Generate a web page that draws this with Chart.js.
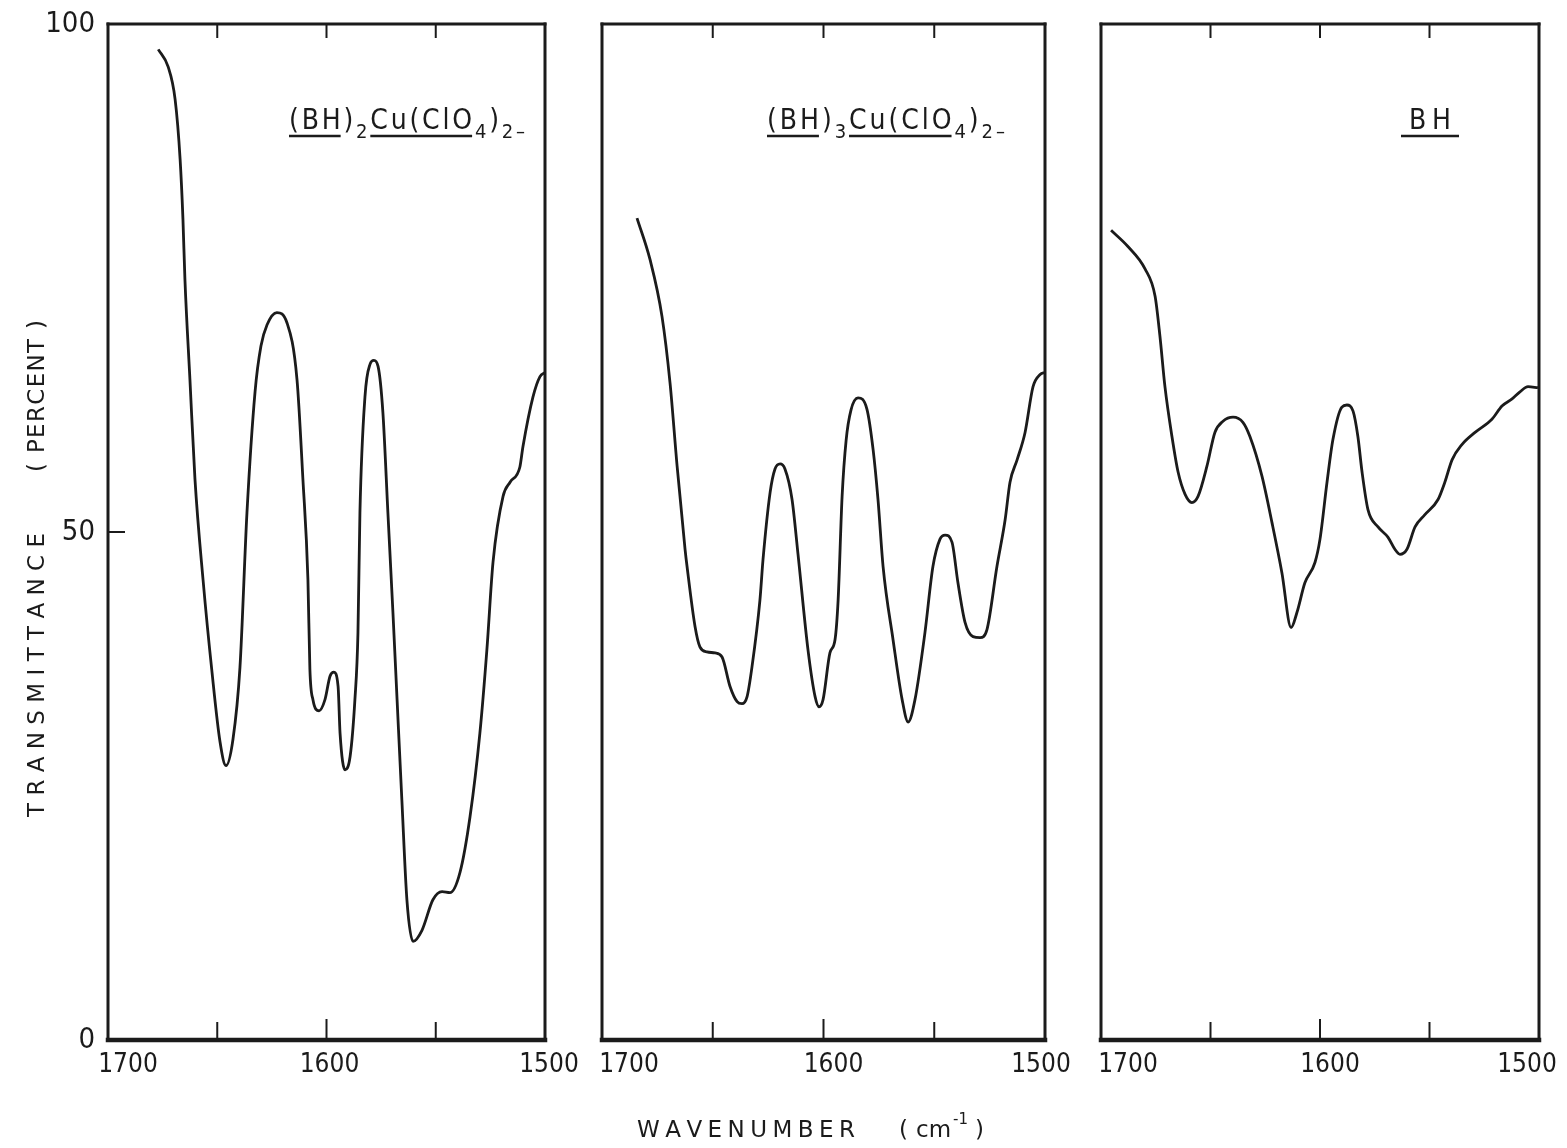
<!DOCTYPE html>
<html>
<head>
<meta charset="utf-8">
<title>IR spectra</title>
<script src="https://cdn.jsdelivr.net/npm/chart.js@4.4.1/dist/chart.umd.min.js"></script>
<style>
  html, body { margin: 0; padding: 0; background: #fff; }
  #wrap { position: relative; width: 1567px; height: 1148px; }
  #wrap canvas { position: absolute; left: 0; top: 0; }
</style>
</head>
<body>
<div id="wrap">
  <canvas id="ir1" width="1567" height="1148"></canvas>
  <canvas id="ir2" width="1567" height="1148"></canvas>
  <canvas id="ir3" width="1567" height="1148"></canvas>
</div>
<script>
// shared axis values
const waveTicks = [1650, 1600, 1550];
const waveLabels = [1700, 1600, 1500];
const percentLabels = [100, 50, 0];

// (BH)2Cu(ClO4)2 spectrum
const wnA = [1677, 1672.5, 1669.3, 1667, 1665.7, 1664.8, 1662.5, 1660.2, 1656.5, 1652.4,
  1648.7, 1646, 1642.8, 1639.6, 1636.4, 1632.7, 1630.0, 1627.2, 1622.7, 1618.1, 1613.5,
  1610.8, 1608.5, 1607.6, 1606.2, 1603.4, 1600.7, 1598.4, 1596.6, 1594.7, 1593.8,
  1591.5, 1589.2, 1587, 1585.6, 1584.7, 1582.4, 1580.1, 1578.3, 1576.4, 1574.2,
  1571.9, 1569.6, 1567.7, 1565.5, 1563.2, 1560.4, 1556.3, 1551.3, 1547.1, 1543.5,
  1538.9, 1534.3, 1529.8, 1526.6, 1523.8, 1519.2, 1516, 1511.5, 1510.1, 1505.5,
  1502.3, 1500];
const tA = [97.5, 95.8, 92.6, 86.7, 80.8, 74.9, 65.0, 55.2, 45.3, 36.2,
  29.3, 27.0, 29.6, 36.7, 51.9, 63.8, 68.3, 70.4, 71.6, 70.6, 65.0,
  55.2, 45.3, 36.5, 33.5, 32.4, 33.5, 35.8, 36.2, 34.8, 30.2,
  26.6, 27.9, 33.5, 40.1, 51.9, 63.3, 66.5, 66.9, 66.3, 61.8,
  51.9, 42.1, 33.5, 23.6, 13.8, 9.7, 10.8, 13.8, 14.6, 14.5,
  16.5, 22.0, 30.2, 38.4, 47.0, 53.5, 54.9, 56.4, 58.4, 63.3,
  65.3, 65.7];

// (BH)3Cu(ClO4)2 spectrum
const wnB = [1684.2, 1678.3, 1672.9, 1669.3, 1666.1, 1662.5, 1661.6, 1658.0, 1655.8, 1652.6,
  1649.0, 1645.8, 1642.2, 1639.0, 1636.8, 1634.5, 1632.3, 1628.7, 1627.3, 1624.1,
  1621.9, 1619.6, 1617.4, 1614.2, 1611.5, 1607.0, 1603.8, 1602.0, 1600.2,
  1597.1, 1594.8, 1593.4, 1591.6, 1589.8, 1587.6, 1584.4, 1580.4, 1577.6, 1575.4, 1573.1,
  1568.6, 1564.5, 1561.8, 1558.7, 1554.2, 1550.6, 1547.4, 1545.1, 1542.0, 1539.3,
  1536.1, 1532.5, 1529.3, 1526.2, 1521.7, 1518.0, 1515.8, 1512.6, 1509.0, 1505.4,
  1502.2, 1500.0];
const tB = [80.9, 76.8, 71.2, 64.7, 56.5, 48.3, 46.6, 40.7, 38.7, 38.2,
  38.1, 37.7, 34.8, 33.3, 33.1, 33.8, 36.7, 43.3, 47.3, 53.9,
  56.2, 56.7, 56.2, 53.2, 47.8, 38.4, 33.8, 32.8, 33.5,
  38.1, 39.4, 43.3, 53.5, 59.0, 62.0, 63.2, 62.1, 58.1, 53.2, 46.6,
  39.4, 33.5, 31.3, 33.5, 40.1, 46.6, 49.3, 49.7, 49.0, 45.0,
  41.1, 39.7, 39.6, 40.4, 46.6, 51.2, 54.9, 57.1, 59.8, 64.3,
  65.5, 65.7];

// free ligand BH
const wnC = [1695.4, 1687.7, 1679.9, 1675.3, 1673.1, 1670.8, 1667.6, 1664.8, 1661.6, 1658.5,
  1655.7, 1651.6, 1648.0, 1644.3, 1639.7, 1635.2, 1632.0, 1626.5, 1621.9,
  1617.4, 1613.2, 1610.5, 1606.9, 1602.3, 1600.0, 1596.8, 1594.1, 1590.0, 1587.7,
  1584.9, 1582.7, 1580.8, 1578.1, 1573.5, 1569.0, 1565.8, 1563.5, 1560.3, 1556.6,
  1552.1, 1546.1, 1543.0, 1539.7, 1535.2, 1529.2, 1521.5, 1516.9, 1512.3, 1508.7,
  1505.0, 1500.5];
const tC = [79.7, 78.1, 75.9, 73.2, 69.3, 64.3, 59.4, 55.9, 53.7, 52.9,
  53.5, 56.5, 59.8, 60.9, 61.3, 60.8, 59.4, 55.5, 50.9,
  46.0, 40.6, 42.1, 45.0, 47.0, 49.3, 54.9, 59.1, 62.3, 62.5,
  61.9, 59.4, 55.9, 52.2, 50.5, 49.5, 48.3, 47.8, 48.3, 50.5,
  51.7, 53.2, 54.9, 57.1, 58.6, 59.8, 61.1, 62.4, 63.1, 63.8,
  64.3, 64.2];

const W = 1567, H = 1148;
const TOP = 24, BOTTOM = 1040;
const INK = '#1b1b1b';
const COND = '"DejaVu Sans Condensed", "DejaVu Sans", sans-serif';
const SANS = '"DejaVu Sans", sans-serif';

function line(ctx, x1, y1, x2, y2) {
  ctx.beginPath();
  ctx.moveTo(x1, y1);
  ctx.lineTo(x2, y2);
  ctx.stroke();
}

// spread the letters of a word evenly over a given width
function spacedText(ctx, text, cx, cy, width) {
  const chars = [...text];
  const widths = chars.map(c => ctx.measureText(c).width);
  const sum = widths.reduce((s, v) => s + v, 0);
  const gap = chars.length > 1 ? (width - sum) / (chars.length - 1) : 0;
  let px = cx - width / 2;
  ctx.textAlign = 'left';
  chars.forEach((c, i) => {
    ctx.fillText(c, px, cy);
    px += widths[i] + gap;
  });
}

// chemical formula with subscripts and underlined groups, letter-spaced to a width
function drawFormula(ctx, segs, x0, base, width) {
  const fontOf = s => (s.sub ? '20px ' : '28px ') + COND;
  const glyphs = [];
  segs.forEach((s, si) => {
    ctx.font = fontOf(s);
    [...s.t].forEach(c => glyphs.push({ c, si, w: ctx.measureText(c).width }));
  });
  const natural = glyphs.reduce((acc, g) => acc + g.w, 0);
  const gap = glyphs.length > 1 ? (width - natural) / (glyphs.length - 1) : 0;

  ctx.textAlign = 'left';
  ctx.textBaseline = 'alphabetic';
  const spans = segs.map(() => ({ a: Infinity, b: -Infinity }));
  let px = x0;
  glyphs.forEach(g => {
    const s = segs[g.si];
    ctx.font = fontOf(s);
    ctx.fillText(g.c, px, base + (s.sub ? 9 : 0));
    spans[g.si].a = Math.min(spans[g.si].a, px);
    spans[g.si].b = Math.max(spans[g.si].b, px + g.w);
    px += g.w + gap;
  });
  ctx.lineWidth = 2.6;
  segs.forEach((s, si) => {
    if (!s.u) return;
    const pad = s.pad || 0;
    line(ctx, spans[si].a - pad, base + 7, spans[si].b + pad, base + 7);
  });
}

const panels = [
  {
    id: 'ir1', wn: wnA, t: tA, left: 108, right: 545,
    labelShift: [20, 3, 4], labelX: 289, labelW: 236,
    formula: [
      { t: '(BH', u: true }, { t: ')' }, { t: '2', sub: true },
      { t: 'Cu(ClO', u: true }, { t: '4', sub: true }, { t: ')' },
      { t: '2', sub: true }, { t: '\u2013', sub: true }
    ],
    yAxis: true
  },
  {
    id: 'ir2', wn: wnB, t: tB, left: 602, right: 1045,
    labelShift: [27, 10, -4], labelX: 767, labelW: 238,
    formula: [
      { t: '(BH', u: true }, { t: ')' }, { t: '3', sub: true },
      { t: 'Cu(ClO', u: true }, { t: '4', sub: true }, { t: ')' },
      { t: '2', sub: true }, { t: '\u2013', sub: true }
    ],
    xTitle: true
  },
  {
    id: 'ir3', wn: wnC, t: tC, left: 1101, right: 1539,
    labelShift: [27, 10, -12], labelX: 1409, labelW: 42,
    formula: [{ t: 'BH', u: true, pad: 8 }]
  }
];

function makePanel(p) {
  const points = p.wn.map((w, i) => ({ x: w, y: p.t[i] }));

  // box frame, inward ticks, tick labels and titles
  const frame = {
    id: 'frame',
    afterDraw(chart) {
      const { ctx, chartArea: a } = chart;
      const xs = chart.scales.x, ys = chart.scales.y;
      ctx.save();
      ctx.strokeStyle = INK;
      ctx.fillStyle = INK;
      ctx.lineCap = 'square';

      ctx.lineWidth = 3;
      line(ctx, a.left, a.top, a.right, a.top);
      line(ctx, a.left, a.top, a.left, a.bottom);
      line(ctx, a.right, a.top, a.right, a.bottom);
      ctx.lineWidth = 4.5;
      line(ctx, a.left, a.bottom, a.right, a.bottom);

      ctx.lineWidth = 2;
      ctx.lineCap = 'butt';
      waveTicks.forEach(w => {
        const px = xs.getPixelForValue(w);
        line(ctx, px, a.top, px, a.top + 14);
        line(ctx, px, a.bottom, px, a.bottom - (w === 1600 ? 21 : 18));
      });

      ctx.font = '26px ' + COND;
      ctx.textAlign = 'center';
      ctx.textBaseline = 'middle';
      waveLabels.forEach((w, i) => {
        ctx.fillText(String(w), xs.getPixelForValue(w) + p.labelShift[i], 1065);
      });

      drawFormula(ctx, p.formula, p.labelX, 129, p.labelW);

      if (p.yAxis) {
        ctx.lineWidth = 2;
        const p50 = ys.getPixelForValue(50);
        line(ctx, a.left, p50, a.left + 17, p50);

        ctx.font = '29px ' + COND;
        ctx.textAlign = 'right';
        ctx.textBaseline = 'middle';
        percentLabels.forEach(v => {
          ctx.fillText(String(v), a.left - 13, ys.getPixelForValue(v));
        });

        ctx.font = '23px ' + SANS;
        ctx.textBaseline = 'middle';
        ctx.save();
        ctx.translate(38, 0);
        ctx.rotate(-Math.PI / 2);
        spacedText(ctx, 'TRANSMITTANCE', -675, 0, 284);
        spacedText(ctx, '( PERCENT )', -396, 0, 152);
        ctx.restore();
      }

      if (p.xTitle) {
        ctx.font = '23px ' + SANS;
        ctx.textBaseline = 'middle';
        spacedText(ctx, 'WAVENUMBER', 746, 1131, 218);
        ctx.textAlign = 'left';
        ctx.fillText('(', 899, 1131);
        ctx.fillText('cm', 916, 1131);
        ctx.font = '15px ' + SANS;
        ctx.fillText('-1', 953, 1120);
        ctx.font = '23px ' + SANS;
        ctx.fillText(')', 975, 1131);
      }
      ctx.restore();
    }
  };

  return new Chart(document.getElementById(p.id), {
    type: 'scatter',
    data: {
      datasets: [{
        data: points,
        showLine: true,
        borderColor: INK,
        borderWidth: 2.8,
        pointRadius: 0,
        cubicInterpolationMode: 'monotone',
        clip: false
      }]
    },
    options: {
      responsive: false,
      animation: false,
      devicePixelRatio: 1,
      events: [],
      layout: {
        padding: { left: p.left, right: W - p.right, top: TOP, bottom: H - BOTTOM }
      },
      plugins: {
        legend: { display: false },
        tooltip: { enabled: false }
      },
      scales: {
        x: { type: 'linear', reverse: true, min: 1500, max: 1700, display: false },
        y: { type: 'linear', min: 0, max: 100, display: false }
      }
    },
    plugins: [frame]
  });
}

panels.forEach(makePanel);
</script>
</body>
</html>
